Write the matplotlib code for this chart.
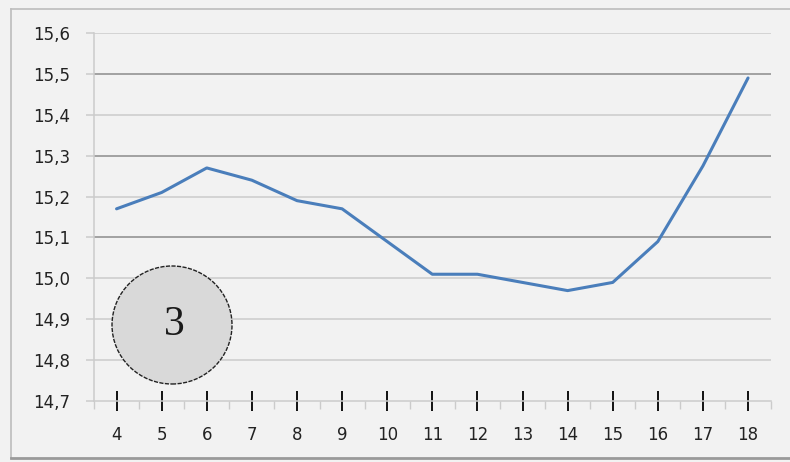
import matplotlib
matplotlib.use('Agg')
import matplotlib.pyplot as plt
from matplotlib.patches import Ellipse
from matplotlib.ticker import FixedLocator, FuncFormatter

# data
x_vals = [4, 5, 6, 7, 8, 9, 10, 11, 12, 13, 14, 15, 16, 17, 18]
y_vals = [15.17, 15.21, 15.27, 15.24, 15.19, 15.17, 15.09, 15.01, 15.01,
          14.99, 14.97, 14.99, 15.09, 15.275, 15.49]
y_ticks = [14.7, 14.8, 14.9, 15.0, 15.1, 15.2, 15.3, 15.4, 15.5, 15.6]
dark_grid = [15.1, 15.3, 15.5]
badge_text = '3'

bg = '#f2f2f2'
fig = plt.figure(figsize=(7.9, 4.62), dpi=100, facecolor=bg)
ax = fig.add_axes([94 / 790, 1 - 401 / 462, (770.6 - 94) / 790, (401 - 33) / 462])
ax.set_facecolor(bg)

# outer frame: top and left light, bottom darker; right edge is off the picture
x0, y_top, y_bot = 11 / 790, 1 - 9 / 462, 1 - 458 / 462
fig.add_artist(plt.Line2D([x0, 1.01], [y_top, y_top], transform=fig.transFigure,
                          color='#bdbdbd', linewidth=1.2))
fig.add_artist(plt.Line2D([x0, x0], [y_bot, y_top], transform=fig.transFigure,
                          color='#bdbdbd', linewidth=1.2))
fig.add_artist(plt.Line2D([x0, 1.01], [y_bot, y_bot], transform=fig.transFigure,
                          color='#9a9a9a', linewidth=2))

ax.set_xlim(3.5, 18.5)
ax.set_ylim(14.7, 15.6)

for v in y_ticks:
    if v == 14.7:
        continue
    c = '#8c8c8c' if any(abs(v - d) < 1e-6 for d in dark_grid) else '#cbcbcb'
    ax.axhline(v, color=c, linewidth=1.1, zorder=1)

ax.plot(x_vals, y_vals, color='#4a7ebb', linewidth=2.2, zorder=3,
        solid_capstyle='round')

for s in ['top', 'right']:
    ax.spines[s].set_visible(False)
ax.spines['left'].set_color('#cbcbcb')
ax.spines['bottom'].set_color('#cbcbcb')
ax.spines['left'].set_linewidth(1.1)
ax.spines['bottom'].set_linewidth(1.1)

ax.set_yticks(y_ticks)
ax.yaxis.set_major_formatter(FuncFormatter(lambda v, p: ('%.1f' % v).replace('.', ',')))
ax.tick_params(axis='y', length=6, width=1.1, color='#cbcbcb', pad=11,
               labelsize=12, labelcolor='#222222')

ax.set_xticks(x_vals)
ax.set_xticklabels([str(v) for v in x_vals])
ax.xaxis.set_minor_locator(FixedLocator([v + 0.5 for v in range(3, 19)]))
ax.tick_params(axis='x', which='major', direction='inout', length=14, width=1.4,
               color='#111111', pad=11, labelsize=12, labelcolor='#222222')
ax.tick_params(axis='x', which='minor', direction='out', length=6, width=1,
               color='#cbcbcb')

# round badge
cx, cy = 172 / 790, 1 - 325 / 462
fig.patches.append(Ellipse((cx, cy), 120 / 790, 118 / 462, transform=fig.transFigure,
                           facecolor='#d9d9d9', edgecolor='#222222',
                           linewidth=1.0, linestyle=(0, (3, 1)), zorder=5))
fig.text(cx + 2 / 790, cy, badge_text, ha='center', va='center',
         fontsize=30, family='Liberation Serif', color='#1a1a1a', zorder=6)

fig.savefig('out.png', dpi=100, facecolor=bg)
